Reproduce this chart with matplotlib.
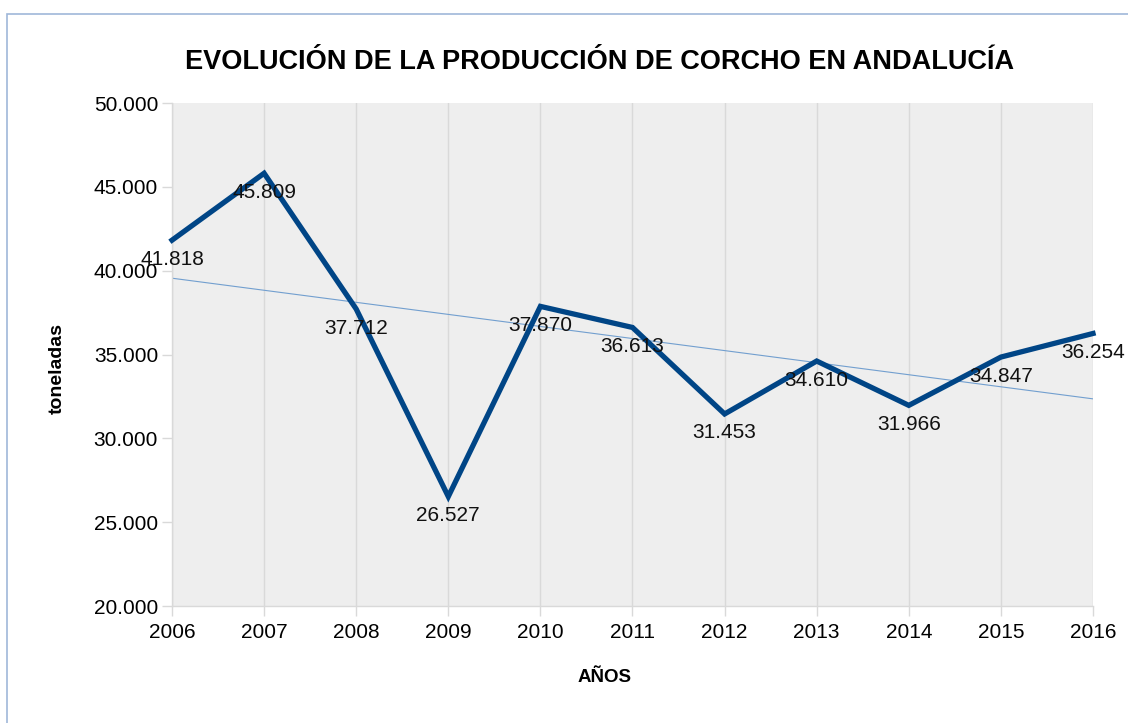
import matplotlib
matplotlib.use("Agg")
import matplotlib.pyplot as plt
import numpy as np
from matplotlib.ticker import FuncFormatter, MultipleLocator
from matplotlib.patches import Rectangle

plt.rcParams['font.family'] = ['Liberation Sans', 'DejaVu Sans']

years = [2006, 2007, 2008, 2009, 2010, 2011, 2012, 2013, 2014, 2015, 2016]
toneladas = [41818, 45809, 37712, 26527, 37870, 36613, 31453, 34610, 31966, 34847, 36254]
title = "EVOLUCIÓN DE LA PRODUCCIÓN DE CORCHO EN ANDALUCÍA"

def thousands(v, pos=None):
    return f"{v:,.0f}".replace(",", ".")

W, H = 1128, 723
fig = plt.figure(figsize=(W / 100, H / 100), dpi=100)
fig.patch.set_facecolor('white')

# border of the chart frame
fig.patches.append(Rectangle((7 / W, -0.1), 1.2, 1 - 14 / H + 0.1, transform=fig.transFigure,
                             fill=False, edgecolor='#9fb7d9', linewidth=1.2))

ax = fig.add_axes([172 / W, 1 - 606 / H, (1093 - 172) / W, (606 - 103) / H])
ax.set_facecolor('#eeeeee')

ax.set_xlim(years[0], years[-1])
ax.set_ylim(20000, 50000)
ax.yaxis.set_major_locator(MultipleLocator(5000))
ax.yaxis.set_major_formatter(FuncFormatter(thousands))
ax.set_xticks(years)
ax.set_xticklabels([str(y) for y in years])

ax.grid(axis='x', color='#d9d9d9', linewidth=1)
ax.set_axisbelow(True)
for s in ['top', 'right']:
    ax.spines[s].set_visible(False)
for s in ['left', 'bottom']:
    ax.spines[s].set_color('#d9d9d9')
    ax.spines[s].set_linewidth(1)
ax.tick_params(axis='both', colors='#d9d9d9', length=7, width=1, labelcolor='black', labelsize=15)
ax.tick_params(axis='x', pad=5)
ax.tick_params(axis='y', pad=3)

# trend line (linear regression)
xs = np.array(years, dtype=float)
coef = np.polyfit(xs, np.array(toneladas, dtype=float), 1)
ax.plot(xs, np.polyval(coef, xs), color='#729fcf', linewidth=0.8, zorder=2)

ax.plot(years, toneladas, color='#004586', linewidth=3.8, solid_joinstyle='miter', zorder=3, clip_on=False)

for x, y in zip(years, toneladas):
    ax.annotate(thousands(y), (x, y), xytext=(0, -19), textcoords='offset pixels',
                ha='center', va='center', fontsize=15, color='#111111', zorder=4,
                annotation_clip=False)

fig.text(600 / W, 1 - 62 / H, title, ha='center', va='center', fontsize=19.5, fontweight='bold')
fig.text(57 / W, 1 - 368 / H, 'toneladas', ha='center', va='center', rotation=90,
         fontsize=14, fontweight='bold')
fig.text(605 / W, 1 - 678 / H, 'AÑOS', ha='center', va='center', fontsize=13.5, fontweight='bold')

fig.savefig('out.png', dpi=100)
